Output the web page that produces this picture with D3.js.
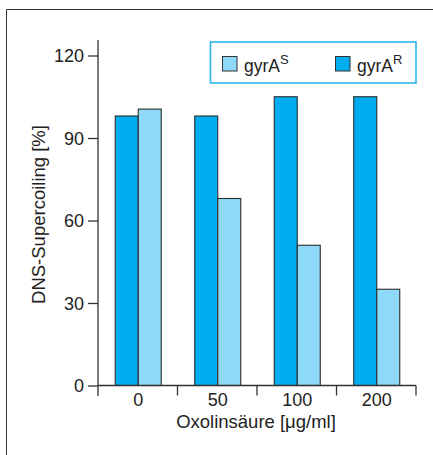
<!DOCTYPE html>
<html><head><meta charset="utf-8">
<script src="https://cdn.jsdelivr.net/npm/d3@7/dist/d3.min.js"></script>
<style>body{margin:0;background:#fff}svg{display:block}text{font-family:"Liberation Sans",Arial,sans-serif;fill:#222}</style>
</head><body><svg id="c" width="433" height="455"></svg>
<script>
const categories = ["0", "50", "100", "200"];
const seriesNames = ["gyrA^R", "gyrA^S"];
const gyrAR = [98, 98, 105, 105];
const gyrAS = [100.5, 68, 51, 35];
const yTicks = [0, 30, 60, 90, 120];
const colors = {"gyrA^R": "#00AEEF", "gyrA^S": "#8ED8F8"};

const svg = d3.select("#c");
const mLeft = 98, mRight = 416, mTop = 55.5, mBottom = 385.5;
const y = d3.scaleLinear().domain([0, 120]).range([mBottom, mTop]);
const x0 = d3.scaleBand().domain(categories).range([mLeft, mRight]).padding(0);
const groupW = 46;
const x1 = d3.scaleBand().domain(seriesNames)
  .range([(x0.bandwidth() - groupW) / 2 + 0.5, (x0.bandwidth() + groupW) / 2 + 0.5]).padding(0);

// frame
svg.append("path").attr("d", "M6.5,455 V9.5 H433").attr("fill", "none").attr("stroke", "#333").attr("stroke-width", 1);

// bars
const data = categories.map((c, i) => ({c, vals: [{s: "gyrA^R", v: gyrAR[i]}, {s: "gyrA^S", v: gyrAS[i]}]}));
const g = svg.append("g");
g.selectAll("g.grp").data(data).join("g").attr("class", "grp")
  .attr("transform", d => `translate(${x0(d.c)},0)`)
  .selectAll("rect").data(d => d.vals).join("rect")
  .attr("x", d => x1(d.s))
  .attr("y", d => y(d.v))
  .attr("width", x1.bandwidth())
  .attr("height", d => y(0) - y(d.v))
  .attr("fill", d => colors[d.s])
  .attr("stroke", "#2b2b2b").attr("stroke-width", 1.1);

// y axis
const yAxis = d3.axisLeft(y).tickValues(yTicks).tickSize(10).tickPadding(4);
const ya = svg.append("g").attr("transform", `translate(${mLeft},0)`).call(yAxis);
ya.select(".domain").remove();
ya.selectAll("line").attr("stroke", "#333").attr("stroke-width", 1.3);
ya.selectAll("text").style("font-size", "18px").attr("fill", "#222").attr("dy", "0.36em");
svg.append("line").attr("x1", mLeft).attr("x2", mLeft).attr("y1", 40).attr("y2", 396)
  .attr("stroke", "#333").attr("stroke-width", 1.3);

// x axis
svg.append("line").attr("x1", mLeft).attr("x2", mRight).attr("y1", mBottom).attr("y2", mBottom)
  .attr("stroke", "#333").attr("stroke-width", 1.3);
const boundaries = categories.map(c => x0(c)).concat([x0(categories[categories.length - 1]) + x0.bandwidth()]);
svg.selectAll("line.xt").data(boundaries.slice(1)).join("line").attr("class", "xt")
  .attr("x1", d => d).attr("x2", d => d).attr("y1", mBottom).attr("y2", mBottom + 10)
  .attr("stroke", "#333").attr("stroke-width", 1.3);
svg.selectAll("text.xl").data(categories).join("text").attr("class", "xl")
  .attr("x", d => x0(d) + x0.bandwidth() / 2 + 0.5).attr("y", 406)
  .attr("text-anchor", "middle").style("font-size", "18px").text(d => d);

// axis titles
svg.append("text").attr("x", 256).attr("y", 428).attr("text-anchor", "middle")
  .style("font-size", "18.5px").text("Oxolinsäure [μg/ml]");
svg.append("text").attr("transform", "translate(45,214.5) rotate(-90)").attr("text-anchor", "middle")
  .style("font-size", "18.5px").text("DNS-Supercoiling [%]");

// legend
svg.append("rect").attr("x", 210.5).attr("y", 42).attr("width", 205.5).attr("height", 41)
  .attr("fill", "#fff").attr("stroke", "#2BB6EA").attr("stroke-width", 1.6);
const legendItems = [{s: "gyrA^S", sup: "S", x: 222}, {s: "gyrA^R", sup: "R", x: 335}];
const lg = svg.selectAll("g.lg").data(legendItems).join("g").attr("class", "lg")
  .attr("transform", d => `translate(${d.x},0)`);
lg.append("rect").attr("x", 0.5).attr("y", 56.5).attr("width", 14.5).attr("height", 14.5)
  .attr("fill", d => colors[d.s]).attr("stroke", "#333").attr("stroke-width", 1);
const lt = lg.append("text").attr("x", 22).attr("y", 72).style("font-size", "17.5px");
lt.append("tspan").text("gyrA");
lt.append("tspan").attr("dy", -8).style("font-size", "13px").text(d => d.sup);
</script></body></html>
